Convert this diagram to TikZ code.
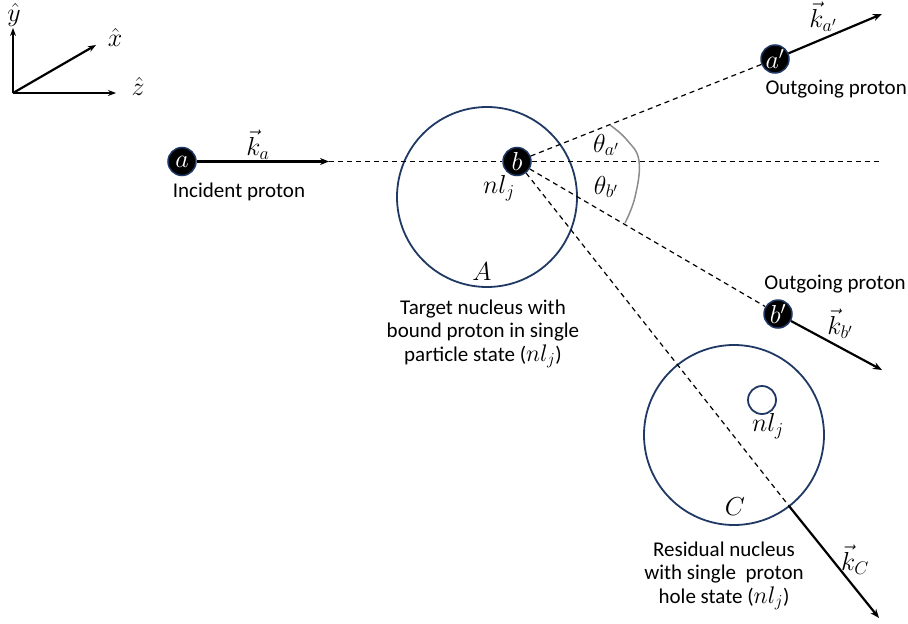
\RequirePackage{fix-cm}
\documentclass[tikz,border=0pt]{standalone}
\usepackage{fontspec}
\setmainfont{Carlito}
\usetikzlibrary{arrows.meta}
\definecolor{navy}{HTML}{1F3864}
\definecolor{arcgray}{HTML}{8C8C8C}
\begin{document}
\begin{tikzpicture}[x=1pt,y=-1pt,
  font=\fontsize{21}{23.5}\selectfont,
  particle/.style={circle,fill=black,draw=navy,line width=1.5pt,minimum size=28pt,inner sep=0pt,text=white,font=\fontsize{26}{26}\selectfont},
  nucleus/.style={circle,draw=navy,line width=1.8pt,inner sep=0pt},
  vecarrow/.style={line width=2.2pt,-{Stealth[length=9pt,width=7pt]}},
  track/.style={line width=1.2pt,dash pattern=on 5pt off 4pt},
  axisarrow/.style={line width=2.2pt,-{Stealth[length=8pt,width=6pt]}},
  caption/.style={align=center,inner sep=0pt},
  lbl/.style={inner sep=0pt,font=\fontsize{26}{28}\selectfont}
]
\useasboundingbox (0,0) rectangle (908,624);

% coordinate axes
\coordinate (o) at (13,93);
\coordinate (yt) at (13,28);
\coordinate (xt) at (96,45);
\coordinate (zt) at (116,93);
\draw[axisarrow] (o) -- (yt);
\draw[axisarrow] (o) -- (xt);
\draw[axisarrow] (o) -- (zt);
\node[lbl] (ylab) at (14,15) {$\hat{y}$};
\node[lbl] (xlab) at (115,37) {$\hat{x}$};
\node[lbl] (zlab) at (138,86) {$\hat{z}$};

% nuclei
\node[nucleus,minimum size=180pt] (A) at (487,197) {};
\node[nucleus,minimum size=180pt] (C) at (734,435) {};
\node[nucleus,minimum size=28pt] (hole) at (762,400) {};
\node[lbl] (Alab) at (482,272) {$A$};
\node[lbl] (Clab) at (735,507) {$C$};
\node[lbl] (holelab) at (768,426) {$nl_j$};

% particles
\node[particle] (a) at (182,161.5) {$a$};
\node[particle] (b) at (517,161.5) {$b$};
\node[particle] (ap) at (775,59) {$a'$};
\node[particle] (bp) at (778,314) {$b'$};
\node[lbl] (blab) at (499,188) {$nl_j$};

% reference points for tracks
\coordinate (katip) at (329,161.5);
\coordinate (zend) at (882,161.5);
\coordinate (kaptip) at (882,14);
\coordinate (kbptip) at (882,370);
\coordinate (kcstart) at (789,506);
\coordinate (kctip) at (879,618);

% tracks
\draw[track] (katip) -- (b);
\draw[track] (b) -- (zend);
\draw[track] (b) -- (ap);
\draw[track] (b) -- (bp);
\draw[track] (b) -- (kcstart);

% momentum vectors
\draw[vecarrow] (a) -- (katip);
\draw[vecarrow] (ap) -- (kaptip);
\draw[vecarrow] (bp) -- (kbptip);
\draw[vecarrow] (kcstart) -- (kctip);
\node[lbl] (ka) at (258,145) {$\vec{k}_a$};
\node[lbl] (kap) at (823,17) {$\vec{k}_{a'}$};
\node[lbl] (kbp) at (840,324) {$\vec{k}_{b'}$};
\node[lbl] (kc) at (855,560) {$\vec{k}_C$};

% scattering angles
\draw[arcgray,line width=1.5pt] plot[smooth,tension=0.7] coordinates {(610,125) (627,140) (639,161) (635,197) (625,223)};
\node[lbl] (tha) at (606,145) {$\theta_{a'}$};
\node[lbl] (thb) at (606,187) {$\theta_{b'}$};

% captions
\node[caption] (inc) at (239,192) {Incident proton};
\node[caption,anchor=east] (outa) at (907,89) {Outgoing proton};
\node[caption] (outb) at (835,284) {Outgoing proton};
\node[caption] (tgt) at (483,334) {Target nucleus with\\bound proton in single\\particle state ({\fontsize{24}{24}\selectfont$nl_j$})};
\node[caption] (res) at (724,576) {Residual nucleus\\with single~~proton\\hole state ({\fontsize{24}{24}\selectfont$nl_j$})};
\end{tikzpicture}
\end{document}
